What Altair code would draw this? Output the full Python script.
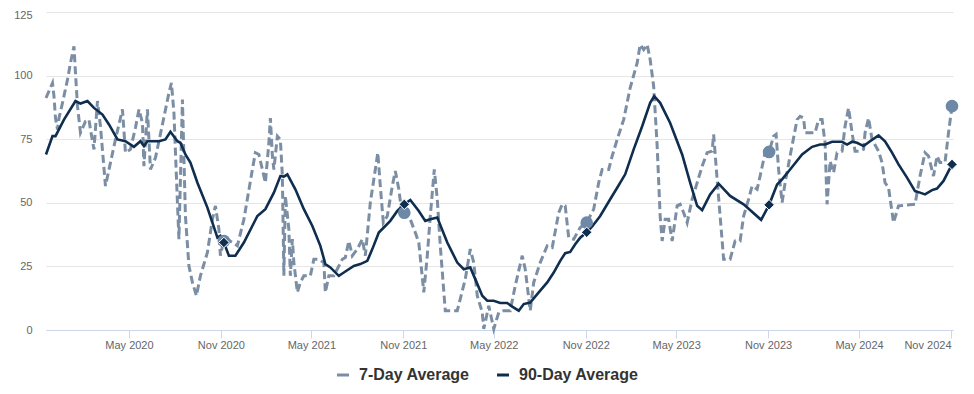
import altair as alt
import pandas as pd

# ---------------- data ----------------
d7_dates = [
    "2019-11-17", "2019-11-30", "2019-12-03", "2019-12-06", "2019-12-10", "2019-12-13", "2019-12-20",
    "2019-12-30", "2020-01-05", "2020-01-12", "2020-01-15", "2020-01-19", "2020-01-25", "2020-02-04",
    "2020-02-11", "2020-02-14", "2020-02-21", "2020-02-28", "2020-03-05", "2020-03-15", "2020-03-25",
    "2020-04-04", "2020-04-18", "2020-04-24", "2020-05-04", "2020-05-14", "2020-05-21", "2020-05-28",
    "2020-05-31", "2020-06-07", "2020-06-13", "2020-06-23", "2020-07-07", "2020-07-20", "2020-07-25",
    "2020-07-30", "2020-08-06", "2020-08-09", "2020-08-16", "2020-08-22", "2020-08-29", "2020-09-05",
    "2020-09-13", "2020-09-21", "2020-10-05", "2020-10-15", "2020-10-21", "2020-10-28", "2020-10-31",
    "2020-11-07", "2020-11-14", "2020-12-04", "2020-12-17", "2021-01-03", "2021-01-09", "2021-01-16",
    "2021-01-23", "2021-01-29", "2021-02-05", "2021-02-08", "2021-02-12", "2021-02-15", "2021-02-22",
    "2021-02-28", "2021-03-04", "2021-03-07", "2021-03-10", "2021-03-17", "2021-03-20", "2021-03-24",
    "2021-03-27", "2021-04-03", "2021-04-09", "2021-04-16", "2021-04-29", "2021-05-06", "2021-05-16",
    "2021-05-26", "2021-05-29", "2021-06-05", "2021-06-15", "2021-07-02", "2021-07-08", "2021-07-15",
    "2021-07-22", "2021-08-01", "2021-08-11", "2021-08-17", "2021-08-27", "2021-09-06", "2021-09-11",
    "2021-09-16", "2021-09-22", "2021-09-30", "2021-10-10", "2021-10-16", "2021-10-23", "2021-10-30",
    "2021-11-03", "2021-11-15", "2021-11-25", "2021-12-02", "2021-12-12", "2021-12-19", "2021-12-25",
    "2022-01-02", "2022-01-08", "2022-01-14", "2022-01-24", "2022-02-17", "2022-03-05", "2022-03-15",
    "2022-03-22", "2022-03-29", "2022-04-08", "2022-04-11", "2022-04-21", "2022-05-01", "2022-05-11",
    "2022-05-21", "2022-06-03", "2022-06-13", "2022-06-27", "2022-07-03", "2022-07-13", "2022-07-20",
    "2022-08-02", "2022-08-16", "2022-08-26", "2022-09-08", "2022-09-15", "2022-09-21", "2022-09-28",
    "2022-10-08", "2022-10-21", "2022-11-03", "2022-11-17", "2022-11-27", "2022-12-04", "2022-12-17",
    "2022-12-24", "2023-01-03", "2023-01-16", "2023-01-29", "2023-02-12", "2023-02-18", "2023-02-25",
    "2023-03-04", "2023-03-10", "2023-03-17", "2023-03-24", "2023-03-30", "2023-04-03", "2023-04-09",
    "2023-04-16", "2023-04-23", "2023-05-03", "2023-05-09", "2023-05-16", "2023-05-23", "2023-06-02",
    "2023-06-12", "2023-06-22", "2023-07-02", "2023-07-12", "2023-07-15", "2023-07-22", "2023-07-28",
    "2023-08-04", "2023-08-17", "2023-08-27", "2023-09-06", "2023-09-13", "2023-09-23", "2023-09-30",
    "2023-10-10", "2023-10-16", "2023-10-26", "2023-11-03", "2023-11-12", "2023-11-17", "2023-11-22",
    "2023-11-29", "2023-12-05", "2023-12-15", "2023-12-29", "2024-01-04", "2024-01-11", "2024-01-14",
    "2024-02-03", "2024-02-10", "2024-02-17", "2024-02-23", "2024-02-27", "2024-03-04", "2024-03-11",
    "2024-03-18", "2024-03-28", "2024-04-03", "2024-04-10", "2024-04-17", "2024-04-23", "2024-05-03",
    "2024-05-10", "2024-05-13", "2024-05-20", "2024-05-27", "2024-06-09", "2024-06-16", "2024-06-22",
    "2024-06-29", "2024-07-09", "2024-07-19", "2024-08-21", "2024-08-31", "2024-09-10", "2024-09-17",
    "2024-09-27", "2024-10-04", "2024-10-10", "2024-10-20", "2024-10-27", "2024-11-03",
]
d7_values = [
    91.2, 97.1, 91.8, 83.3, 78.8, 83.3, 89.3,
    98.4, 105.0, 111.5, 101.0, 88.0, 77.5, 82.0,
    82.7, 78.8, 71.0, 90.0, 80.1, 56.6, 65.8,
    74.9, 86.7, 69.7, 71.0, 79.5, 86.7, 81.4,
    64.4, 86.7, 63.1, 67.7, 80.8, 93.2, 97.1,
    85.4, 50.1, 35.7, 90.6, 44.8, 25.2, 18.7,
    13.5, 21.3, 30.5, 43.5, 48.8, 39.6, 29.2,
    35.5, 35.7, 33.1, 43.5, 63.1, 69.7, 69.0,
    63.1, 57.9, 73.6, 83.3, 68.4, 63.1, 76.2,
    74.9, 60.5, 21.3, 52.7, 39.6, 21.3, 35.7,
    26.5, 14.8, 18.7, 21.3, 21.3, 27.8, 27.8,
    26.5, 14.8, 21.3, 21.3, 27.8, 28.5, 35.0,
    29.2, 31.8, 35.7, 29.2, 50.1, 63.1, 69.7,
    56.6, 42.2, 44.8, 56.6, 62.5, 55.3, 44.8,
    46.1, 43.5, 38.3, 34.4, 14.8, 29.2, 44.8,
    63.1, 51.4, 33.1, 7.6, 7.6, 20.0, 31.8,
    26.5, 13.5, 6.9, 0.4, 9.5, 0.4, 6.9,
    7.6, 7.6, 17.4, 29.2, 23.9, 7.6, 18.7,
    26.5, 33.1, 32.4, 46.1, 49.4, 48.8, 36.3,
    35.7, 40.3, 42.2, 47.5, 57.9, 63.1, 63.1,
    68.4, 74.9, 82.7, 95.2, 105.0, 112.2, 110.2,
    112.2, 106.3, 95.8, 72.3, 44.8, 35.0, 43.5,
    43.5, 35.0, 48.8, 49.4, 46.1, 42.2, 51.4,
    57.9, 64.4, 69.7, 70.3, 76.9, 59.2, 44.8,
    27.8, 27.8, 35.0, 35.0, 44.8, 51.4, 56.6,
    55.3, 60.5, 69.7, 70.0, 76.2, 76.9, 63.1,
    50.1, 57.9, 68.4, 82.7, 84.0, 83.3, 77.5,
    77.5, 82.7, 82.7, 73.6, 49.4, 66.4, 61.8,
    69.7, 70.3, 80.1, 87.3, 77.5, 70.3, 70.3,
    71.0, 77.5, 83.3, 74.9, 70.3, 65.8, 57.9,
    56.0, 42.2, 48.8, 49.4, 60.5, 69.7, 68.4,
    60.5, 68.4, 65.8, 65.8, 77.5, 88.0,
]

d90_dates = [
    "2019-11-17", "2019-11-30", "2019-12-06", "2019-12-23", "2020-01-15", "2020-01-25", "2020-02-08",
    "2020-02-21", "2020-03-09", "2020-03-22", "2020-04-08", "2020-04-24", "2020-05-11", "2020-05-24",
    "2020-05-31", "2020-06-07", "2020-06-30", "2020-07-13", "2020-07-23", "2020-08-06", "2020-08-12",
    "2020-08-22", "2020-09-01", "2020-09-15", "2020-10-05", "2020-10-25", "2020-10-31", "2020-11-07",
    "2020-11-17", "2020-11-30", "2020-12-17", "2021-01-13", "2021-01-29", "2021-02-15", "2021-02-28",
    "2021-03-07", "2021-03-14", "2021-03-30", "2021-04-16", "2021-05-03", "2021-05-19", "2021-05-29",
    "2021-06-08", "2021-06-25", "2021-07-05", "2021-07-25", "2021-08-07", "2021-08-21", "2021-08-31",
    "2021-09-13", "2021-09-23", "2021-10-06", "2021-10-20", "2021-11-03", "2021-11-15", "2021-12-02",
    "2021-12-15", "2021-12-25", "2022-01-08", "2022-01-28", "2022-02-17", "2022-03-02", "2022-03-15",
    "2022-03-25", "2022-04-08", "2022-04-18", "2022-05-01", "2022-05-14", "2022-05-28", "2022-06-07",
    "2022-06-20", "2022-06-30", "2022-07-13", "2022-07-30", "2022-08-16", "2022-08-29", "2022-09-11",
    "2022-09-21", "2022-10-01", "2022-10-11", "2022-10-21", "2022-11-03", "2022-11-14", "2022-11-30",
    "2022-12-20", "2023-01-03", "2023-01-19", "2023-02-05", "2023-02-22", "2023-03-10", "2023-03-18",
    "2023-03-30", "2023-04-19", "2023-05-13", "2023-05-29", "2023-06-12", "2023-06-22", "2023-07-08",
    "2023-07-25", "2023-08-17", "2023-09-13", "2023-10-18", "2023-11-03", "2023-11-19", "2023-11-29",
    "2023-12-15", "2024-01-08", "2024-01-28", "2024-02-13", "2024-02-23", "2024-03-08", "2024-03-28",
    "2024-04-07", "2024-04-17", "2024-04-27", "2024-05-10", "2024-05-23", "2024-06-09", "2024-06-22",
    "2024-07-06", "2024-07-19", "2024-08-05", "2024-08-21", "2024-08-31", "2024-09-10", "2024-09-24",
    "2024-10-04", "2024-10-17", "2024-11-03",
]
d90_values = [
    69.0, 76.2, 76.2, 82.7, 90.0, 89.0, 90.0,
    87.3, 84.7, 80.8, 74.9, 74.2, 72.0, 74.2,
    72.3, 74.2, 74.2, 74.9, 77.9, 74.2, 73.6,
    69.0, 65.8, 57.9, 48.1, 36.3, 37.0, 34.4,
    29.2, 29.2, 34.4, 44.8, 47.5, 54.0, 60.5,
    60.3, 61.2, 55.3, 47.5, 40.9, 33.1, 25.9,
    24.6, 21.3, 22.6, 25.2, 25.9, 27.2, 31.8,
    38.3, 40.3, 42.9, 46.8, 49.4, 51.1, 46.8,
    42.9, 43.5, 44.2, 34.4, 26.5, 23.9, 24.6,
    20.0, 13.5, 11.5, 11.5, 10.6, 10.6, 9.2,
    7.6, 10.2, 10.8, 14.8, 18.7, 22.6, 27.2,
    30.2, 30.7, 33.7, 36.3, 38.4, 40.7, 44.8,
    51.4, 55.9, 61.2, 71.0, 80.1, 89.3, 91.9,
    89.3, 81.4, 69.0, 57.9, 48.8, 47.1, 53.3,
    57.5, 52.7, 49.4, 43.3, 49.2, 57.2, 59.2,
    63.1, 69.0, 72.0, 72.9, 72.9, 74.0, 74.0,
    72.9, 74.0, 73.6, 72.3, 74.2, 76.5, 74.2,
    69.7, 65.1, 59.9, 54.6, 54.0, 53.3, 55.0,
    55.6, 58.6, 65.1,
]

marker_dates = ["2020-11-07", "2021-11-03", "2022-11-03", "2023-11-03", "2024-11-03"]
marker7_values = [35.0, 46.1, 42.2, 70.0, 88.0]
marker90_values = [34.4, 49.4, 38.4, 49.2, 65.1]

y_ticks = [0, 25, 50, 75, 100, 125]
series_names = ["7-Day Average", "90-Day Average"]
x_tick_dates = [(2020, 5), (2020, 11), (2021, 5), (2021, 11), (2022, 5), (2022, 11),
                (2023, 5), (2023, 11), (2024, 5), (2024, 11)]

# ---------------- frames ----------------
df7 = pd.DataFrame({"date": d7_dates, "value": d7_values, "series": series_names[0]})
df90 = pd.DataFrame({"date": d90_dates, "value": d90_values, "series": series_names[1]})
dm7 = pd.DataFrame({"date": marker_dates, "value": marker7_values})
dm90 = pd.DataFrame({"date": marker_dates, "value": marker90_values})

navy = "#0f2e4f"
gray = "#7b8ea4"
dot = "#6d89a7"

x_enc = alt.X(
    "date:T",
    scale=alt.Scale(type="utc", domain=[alt.DateTime(year=2019, month=11, date=17, utc=True),
                                        alt.DateTime(year=2024, month=11, date=5, utc=True)]),
    axis=alt.Axis(
        values=[alt.DateTime(year=yy, month=mm, date=1, utc=True) for yy, mm in x_tick_dates],
        format="%b %Y", title=None, grid=False, domainColor="#ccd6eb", tickColor="#ccd6eb",
        tickSize=8, labelColor="#666666", labelFontSize=11, labelPadding=1, labelFlush=6,
    ),
)
y_enc = alt.Y(
    "value:Q",
    scale=alt.Scale(domain=[0, 125], nice=False),
    axis=alt.Axis(values=y_ticks, title=None, domain=False, ticks=False, tickSize=0,
                  gridColor="#e6e6e6", labelColor="#666666", labelFontSize=11, labelPadding=14,
                  labelOffset={"expr": "datum.value == 125 ? 3 : 0"}),
)
color_enc = alt.Color(
    "series:N",
    scale=alt.Scale(domain=series_names, range=[gray, navy]),
    legend=alt.Legend(
        title=None, orient="none", legendX=289, legendY=355, direction="horizontal",
        symbolType="stroke", symbolStrokeWidth=3, symbolSize=144, labelFontSize=16,
        labelFontWeight="bold", labelColor="#333333", labelOffset=8, columnPadding=21,
        labelFont="Liberation Sans",
    ),
)

line7 = alt.Chart(df7).mark_line(strokeDash=[8, 4], strokeWidth=3).encode(x=x_enc, y=y_enc, color=color_enc)
line90 = alt.Chart(df90).mark_line(strokeWidth=2.6).encode(x=x_enc, y=y_enc, color=color_enc)
circles = alt.Chart(dm7).mark_point(shape="circle", filled=True, size=160, color=dot, opacity=1).encode(x=x_enc, y=y_enc)
diamonds = alt.Chart(dm90).mark_point(shape="diamond", filled=True, size=110, color=navy, opacity=1,
                                      stroke="white", strokeWidth=1).encode(x=x_enc, y=y_enc)

chart = (
    alt.layer(line7, line90, circles, diamonds)
    .properties(width=907, height=318,
                padding={"left": 38, "top": 4, "right": 13, "bottom": 60},
                autosize=alt.AutoSizeParams(type="none"))
    .configure_view(stroke=None)
    .configure_axis(labelFont="Liberation Sans")
)

chart.save("out.html", embed_options={"renderer": "svg", "actions": False})
